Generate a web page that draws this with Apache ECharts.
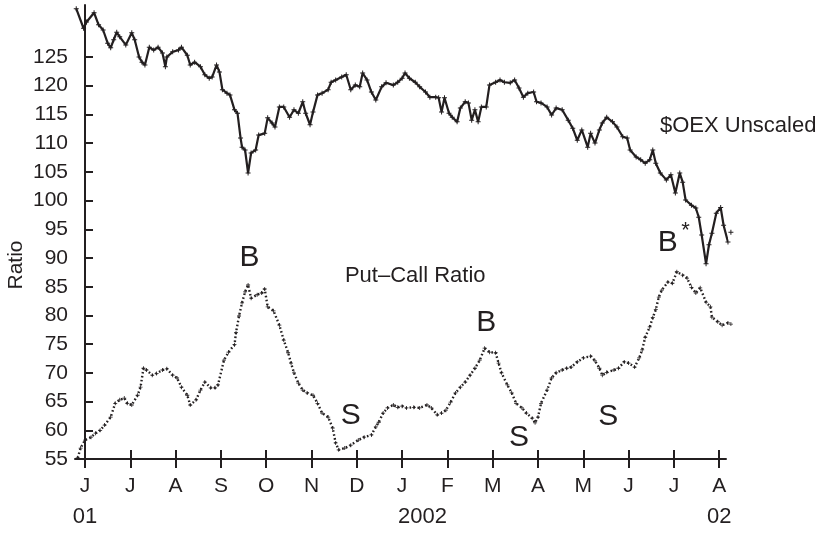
<!DOCTYPE html>
<html>
<head>
<meta charset="utf-8">
<title>$OEX and Put–Call Ratio</title>
<script src="https://cdn.jsdelivr.net/npm/echarts@6/dist/echarts.min.js"></script>
<style>
  html, body { margin: 0; padding: 0; background: #fff; }
  #chart { width: 823px; height: 533px; }
</style>
</head>
<body>
<div id="chart"></div>
<script>
// Month tick letters, June 2001 through August 2002
const monthLetters = ['J', 'J', 'A', 'S', 'O', 'N', 'D', 'J', 'F', 'M', 'A', 'M', 'J', 'J', 'A'];
const yTicks = [55, 60, 65, 70, 75, 80, 85, 90, 95, 100, 105, 110, 115, 120, 125];

// $OEX closes (unscaled)
const oexDates = [
  '2001-05-26','2001-05-31','2001-06-02','2001-06-07','2001-06-10','2001-06-13','2001-06-16','2001-06-18',
  '2001-06-20','2001-06-22','2001-06-24','2001-06-28','2001-07-02','2001-07-04','2001-07-07','2001-07-09',
  '2001-07-11','2001-07-14','2001-07-17','2001-07-20','2001-07-23','2001-07-25','2001-07-26','2001-07-30',
  '2001-08-03','2001-08-05','2001-08-09','2001-08-11','2001-08-14','2001-08-18','2001-08-21','2001-08-24',
  '2001-08-26','2001-08-29','2001-08-31','2001-09-02','2001-09-05','2001-09-07','2001-09-10','2001-09-12',
  '2001-09-14','2001-09-15','2001-09-17','2001-09-19','2001-09-21','2001-09-24','2001-09-26','2001-09-30',
  '2001-10-02','2001-10-05','2001-10-07','2001-10-10','2001-10-13','2001-10-17','2001-10-20','2001-10-23',
  '2001-10-26','2001-10-28','2001-10-31','2001-11-02','2001-11-05','2001-11-08','2001-11-12','2001-11-14',
  '2001-11-17','2001-11-21','2001-11-24','2001-11-27','2001-11-30','2001-12-03','2001-12-05','2001-12-08',
  '2001-12-11','2001-12-14','2001-12-18','2001-12-21','2001-12-26','2001-12-29','2002-01-01','2002-01-03',
  '2002-01-06','2002-01-10','2002-01-13','2002-01-17','2002-01-20','2002-01-24','2002-01-26','2002-01-28',
  '2002-01-30','2002-02-02','2002-02-04','2002-02-07','2002-02-09','2002-02-12','2002-02-14','2002-02-16',
  '2002-02-18','2002-02-20','2002-02-22','2002-02-25','2002-02-27','2002-03-03','2002-03-06','2002-03-09',
  '2002-03-13','2002-03-16','2002-03-19','2002-03-22','2002-03-25','2002-03-29','2002-03-31','2002-04-03',
  '2002-04-07','2002-04-10','2002-04-13','2002-04-17','2002-04-21','2002-04-24','2002-04-27','2002-04-30',
  '2002-05-04','2002-05-06','2002-05-09','2002-05-12','2002-05-14','2002-05-17','2002-05-21','2002-05-24',
  '2002-05-28','2002-05-31','2002-06-02','2002-06-06','2002-06-09','2002-06-12','2002-06-15','2002-06-17',
  '2002-06-19','2002-06-22','2002-06-26','2002-06-29','2002-07-02','2002-07-05','2002-07-07','2002-07-09',
  '2002-07-13','2002-07-16','2002-07-18','2002-07-20','2002-07-23','2002-07-25','2002-07-27','2002-07-30',
  '2002-08-02','2002-08-04','2002-08-07','2002-08-09'
];
const oexValues = [
  133.4, 130.0, 131.1, 132.7, 130.6, 129.7, 127.4, 126.6,
  128.0, 129.3, 128.5, 127.1, 129.2, 128.0, 125.0, 124.1,
  123.6, 126.7, 126.2, 126.7, 125.7, 123.3, 125.0, 125.9,
  126.2, 126.7, 125.3, 123.6, 124.1, 123.3, 121.9, 121.3,
  121.5, 123.6, 122.4, 119.3, 118.7, 118.4, 115.8, 115.2,
  110.9, 109.3, 108.8, 104.8, 108.3, 108.8, 111.4, 111.7,
  114.4, 113.5, 112.8, 116.3, 116.3, 114.5, 115.8, 115.2,
  117.2, 115.2, 113.2, 115.4, 118.4, 118.7, 119.3, 120.6,
  121.0, 121.5, 121.9, 119.3, 120.1, 119.8, 122.2, 121.0,
  118.9, 117.5, 119.8, 120.5, 120.1, 120.6, 121.3, 122.2,
  121.3, 120.6, 119.8, 118.9, 118.0, 118.0, 117.9, 115.4,
  117.9, 115.2, 114.5, 113.7, 116.1, 117.2, 117.0, 114.0,
  115.8, 113.7, 116.3, 116.3, 120.1, 120.6, 121.0, 120.6,
  120.5, 121.0, 119.6, 118.0, 118.7, 118.9, 117.2, 117.0,
  116.3, 114.9, 116.1, 115.8, 114.0, 112.6, 110.5, 112.3,
  109.3, 111.7, 110.0, 112.3, 113.5, 114.5, 113.7, 112.8,
  111.1, 110.9, 108.8, 107.6, 107.1, 106.5, 107.1, 108.8,
  106.5, 104.8, 103.6, 104.5, 101.3, 104.8, 103.2, 100.1,
  99.2, 98.7, 97.1, 94.0, 89.0, 92.3, 94.3, 97.8,
  98.8, 95.7, 92.8, 94.5
];

// Put–call ratio (x100), smoothed
const pcrDates = [
  '2001-05-27','2001-05-29','2001-06-01','2001-06-05','2001-06-08','2001-06-11','2001-06-14','2001-06-18',
  '2001-06-21','2001-06-24','2001-06-27','2001-06-29','2001-07-02','2001-07-06','2001-07-08','2001-07-10',
  '2001-07-12','2001-07-16','2001-07-19','2001-07-23','2001-07-26','2001-07-30','2001-08-02','2001-08-05',
  '2001-08-09','2001-08-11','2001-08-15','2001-08-18','2001-08-21','2001-08-25','2001-08-28','2001-08-30',
  '2001-09-03','2001-09-06','2001-09-10','2001-09-11','2001-09-13','2001-09-15','2001-09-17','2001-09-19',
  '2001-09-21','2001-09-25','2001-09-28','2001-09-30','2001-10-02','2001-10-06','2001-10-10','2001-10-13',
  '2001-10-16','2001-10-18','2001-10-20','2001-10-23','2001-10-26','2001-10-29','2001-11-02','2001-11-05',
  '2001-11-08','2001-11-12','2001-11-15','2001-11-17','2001-11-19','2001-11-23','2001-11-27','2001-12-02',
  '2001-12-06','2001-12-11','2001-12-14','2001-12-16','2001-12-19','2001-12-22','2001-12-26','2001-12-29',
  '2002-01-01','2002-01-04','2002-01-09','2002-01-13','2002-01-18','2002-01-21','2002-01-25','2002-01-28',
  '2002-01-31','2002-02-03','2002-02-06','2002-02-09','2002-02-12','2002-02-15','2002-02-18','2002-02-21',
  '2002-02-24','2002-02-27','2002-03-03','2002-03-05','2002-03-07','2002-03-11','2002-03-14','2002-03-17',
  '2002-03-21','2002-03-24','2002-03-28','2002-03-30','2002-04-01','2002-04-03','2002-04-07','2002-04-10',
  '2002-04-13','2002-04-17','2002-04-20','2002-04-23','2002-04-27','2002-05-01','2002-05-06','2002-05-09',
  '2002-05-12','2002-05-14','2002-05-17','2002-05-22','2002-05-25','2002-05-29','2002-06-01','2002-06-05',
  '2002-06-08','2002-06-10','2002-06-12','2002-06-15','2002-06-17','2002-06-19','2002-06-21','2002-06-23',
  '2002-06-27','2002-06-30','2002-07-03','2002-07-07','2002-07-10','2002-07-13','2002-07-16','2002-07-19',
  '2002-07-23','2002-07-26','2002-07-27','2002-07-31','2002-08-03','2002-08-07','2002-08-09'
];
const pcrValues = [
  55.2, 56.9, 58.3, 58.8, 59.5, 60.0, 60.9, 62.3,
  64.7, 65.3, 65.6, 64.7, 64.4, 66.1, 67.5, 70.8,
  70.5, 69.6, 69.9, 70.5, 70.7, 69.6, 69.1, 67.5,
  66.1, 64.4, 65.3, 67.0, 68.4, 67.4, 67.4, 67.9,
  72.2, 73.6, 74.9, 77.0, 79.9, 82.2, 84.1, 85.3,
  83.0, 83.6, 83.9, 84.6, 81.5, 80.8, 78.3, 75.7,
  73.5, 71.7, 70.0, 68.2, 67.0, 66.5, 66.1, 64.7,
  63.0, 62.3, 60.4, 57.8, 56.6, 56.9, 57.4, 58.3,
  58.8, 59.2, 60.6, 61.4, 63.0, 63.9, 64.4, 64.0,
  64.2, 63.9, 64.0, 63.9, 64.4, 63.9, 62.7, 63.0,
  63.5, 64.9, 66.5, 67.5, 68.4, 69.6, 70.8, 72.2,
  74.3, 73.6, 73.5, 71.7, 70.0, 67.9, 66.5, 64.7,
  63.9, 63.0, 62.1, 61.3, 62.3, 64.7, 67.0, 69.1,
  70.0, 70.5, 70.8, 71.0, 71.9, 72.6, 72.9, 72.1,
  70.8, 69.6, 70.1, 70.5, 70.8, 71.9, 71.7, 71.0,
  72.6, 74.0, 76.2, 78.0, 79.6, 81.0, 83.2, 84.4,
  85.8, 85.6, 87.6, 87.0, 86.5, 84.9, 83.9, 84.8,
  82.3, 81.5, 79.7, 78.9, 78.3, 78.7, 78.5
];

// Text annotations placed in data space: [date, value, text, fontSize]
const notes = [
  ['2001-09-20', 90.0, 'B', 30],
  ['2002-01-10', 86.9, 'Put\u2013Call Ratio', 22],
  ['2001-11-27', 62.5, 'S', 30],
  ['2002-02-25', 78.7, 'B', 30],
  ['2002-03-19', 58.7, 'S', 30],
  ['2002-05-18', 62.3, 'S', 30],
  ['2002-06-27', 92.6, 'B', 30],
  ['2002-07-09', 94.7, '*', 22],
  ['2002-08-14', 113.0, '$OEX Unscaled', 22]
];

// Year row under the month letters: [month index, text, align]
const yearRow = [[0, '01', 'center'], [7, '2002', 'left'], [14, '02', 'center']];

// Months since June 2001, with the day as a fraction of its month
function monthPos(s) {
  const [y, m, d] = s.split('-').map(Number);
  const dim = new Date(y, m, 0).getDate();
  return (y - 2001) * 12 + (m - 6) + (d - 1) / dim;
}

const ink = '#231f20';
const font = '"Liberation Sans", Arial, Helvetica, sans-serif';
const plus = 'path://M2,0H3V2H5V3H3V5H2V3H0V2H2Z';
const monthTicks = monthLetters.map((_, i) => i);
const xMin = -0.221, xMax = 14.15;

const chart = echarts.init(document.getElementById('chart'), null, { renderer: 'canvas' });

chart.setOption({
  animation: false,
  backgroundColor: '#fff',
  grid: { left: 75, right: 97, top: 5, bottom: 74 },
  xAxis: [
    {
      type: 'value', min: xMin, max: xMax,
      axisLine: { show: true, lineStyle: { color: ink, width: 2 } },
      axisTick: { show: true, customValues: monthTicks, length: 9, lineStyle: { color: ink, width: 2 } },
      axisLabel: {
        show: true, customValues: monthTicks, margin: 17,
        formatter: v => monthLetters[Math.round(v)] || '',
        color: ink, fontSize: 21, fontFamily: font
      },
      splitLine: { show: false }
    },
    {
      type: 'value', min: xMin, max: xMax, position: 'bottom',
      axisLine: { show: false },
      axisTick: { show: true, inside: true, customValues: monthTicks, length: 9, lineStyle: { color: ink, width: 2 } },
      axisLabel: { show: false },
      splitLine: { show: false }
    }
  ],
  yAxis: {
    type: 'value', min: 55, max: 134.05,
    axisLine: { show: true, lineStyle: { color: ink, width: 2 } },
    axisTick: { show: true, inside: true, customValues: yTicks, length: 8, lineStyle: { color: ink, width: 2 } },
    axisLabel: { show: true, customValues: yTicks, margin: 7, color: ink, fontSize: 21, fontFamily: font },
    splitLine: { show: false }
  },
  series: [
    {
      name: '$OEX', type: 'line', xAxisIndex: 0, clip: false,
      data: oexDates.map((d, i) => [monthPos(d), oexValues[i]]),
      lineStyle: { color: ink, width: 2.2 },
      symbol: plus, symbolSize: 5, itemStyle: { color: ink },
      z: 3
    },
    {
      name: 'Put-Call Ratio', type: 'line', xAxisIndex: 0, clip: false,
      data: pcrDates.map((d, i) => [monthPos(d), pcrValues[i]]),
      lineStyle: { color: ink, width: 2.4, type: [1.6, 2.4] },
      symbol: plus, symbolSize: 4, itemStyle: { color: ink },
      z: 3
    }
  ]
});

// Annotations and year labels, positioned through the chart's own scales
function place() {
  const graphics = [];
  notes.forEach(([d, v, text, size]) => {
    const [px, py] = chart.convertToPixel({ xAxisIndex: 0, yAxisIndex: 0 }, [monthPos(d), v]);
    graphics.push({
      type: 'text', x: px, y: py, silent: true,
      style: { text, fill: ink, font: size + 'px ' + font, align: 'center', verticalAlign: 'middle' }
    });
  });
  const baseY = chart.convertToPixel({ yAxisIndex: 0 }, 55);
  yearRow.forEach(([m, text, align]) => {
    const px = chart.convertToPixel({ xAxisIndex: 0 }, m);
    graphics.push({
      type: 'text', x: align === 'left' ? px - 4 : px, y: baseY + 58, silent: true,
      style: { text, fill: ink, font: '22px ' + font, align, verticalAlign: 'middle' }
    });
  });
  // Axis title
  graphics.push({
    type: 'text', x: 16, y: 265, rotation: Math.PI / 2, silent: true,
    style: { text: 'Ratio', fill: ink, font: '21px ' + font, align: 'center', verticalAlign: 'middle' }
  });
  chart.setOption({ graphic: graphics });
}
place();
</script>
</body>
</html>
